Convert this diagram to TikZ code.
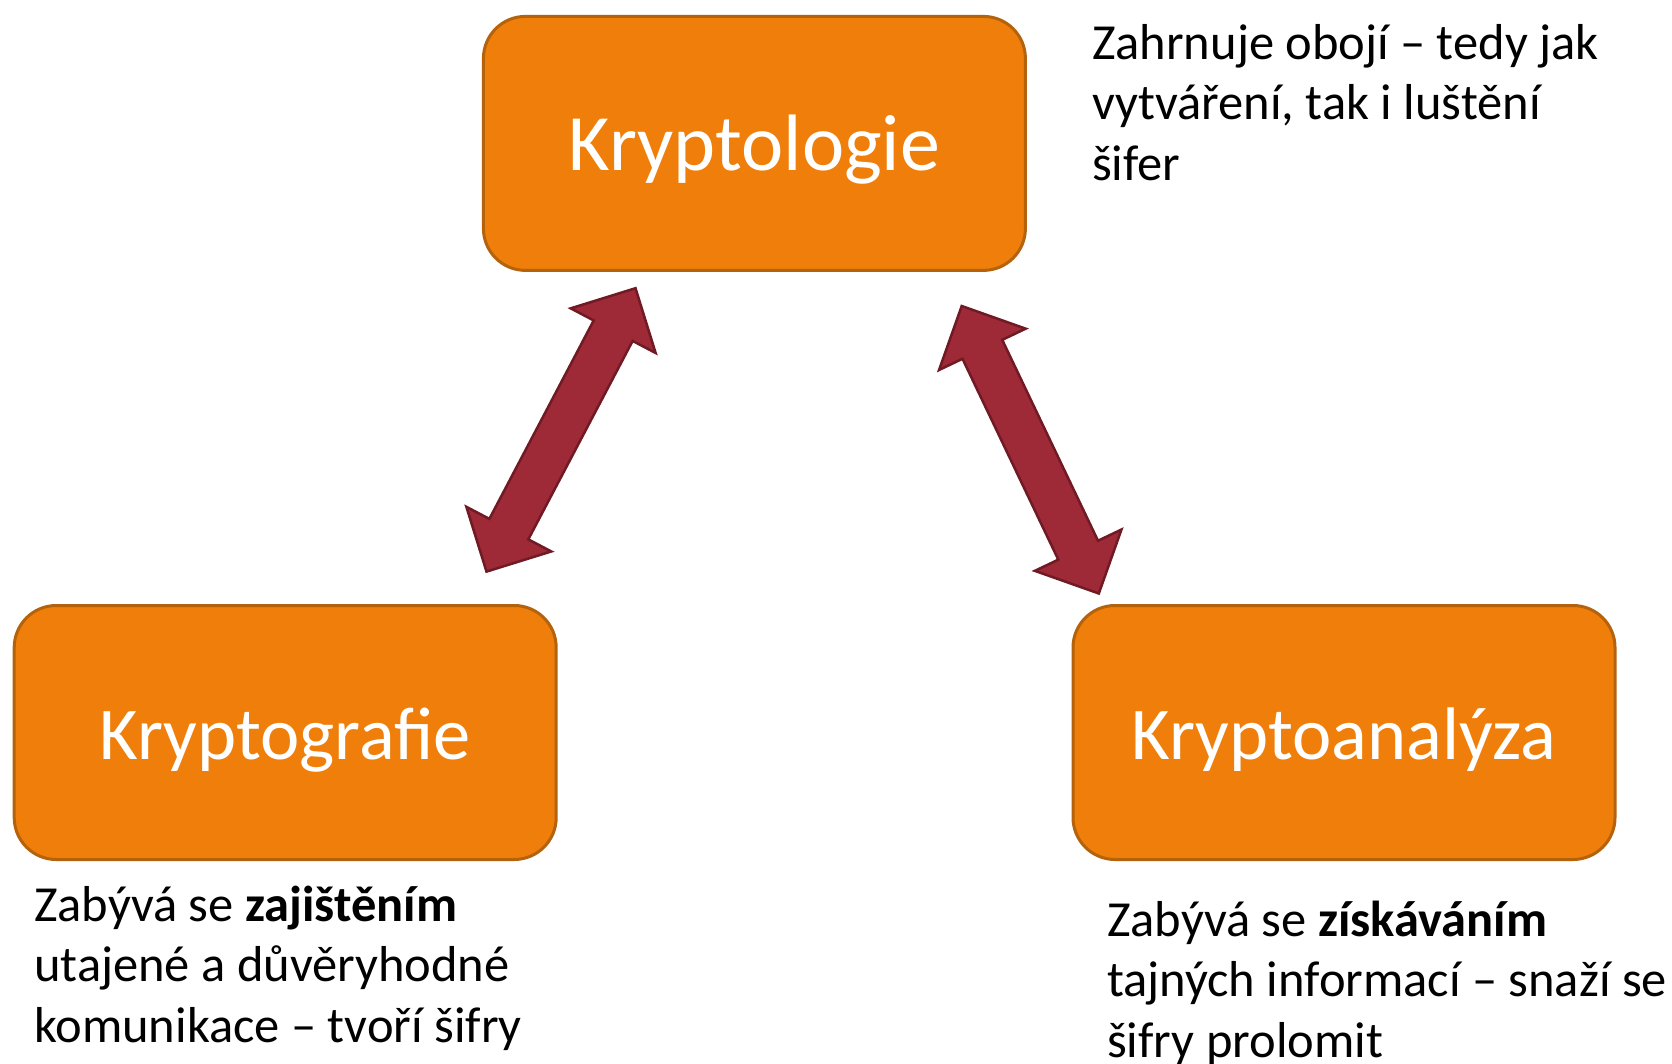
\documentclass[tikz,border=0pt]{standalone}
\usepackage{fontspec}
\setmainfont{Carlito}
\usetikzlibrary{calc}
\definecolor{boxfill}{RGB}{239,127,10}
\definecolor{boxline}{RGB}{180,98,12}
\definecolor{arrfill}{RGB}{158,41,55}
\definecolor{arrline}{RGB}{112,26,36}
\newcommand\fatarrow[2]{%
  \draw[fatarrowstyle] (#1)
    -- ($(#1)!48pt!(#2)!48pt!90:(#2)$)
    -- ($(#1)!48pt!(#2)!22pt!90:(#2)$)
    -- ($(#2)!48pt!(#1)!22pt!-90:(#1)$)
    -- ($(#2)!48pt!(#1)!48pt!-90:(#1)$)
    -- (#2)
    -- ($(#2)!48pt!(#1)!48pt!90:(#1)$)
    -- ($(#2)!48pt!(#1)!22pt!90:(#1)$)
    -- ($(#1)!48pt!(#2)!22pt!-90:(#2)$)
    -- ($(#1)!48pt!(#2)!48pt!-90:(#2)$)
    -- cycle;}
\begin{document}
\begin{tikzpicture}[x=1pt,y=1pt,
  box/.style={draw=boxline, fill=boxfill, line width=3pt, rounded corners=42pt,
    minimum width=542pt, minimum height=254pt, text=white,
    font=\fontsize{74.5}{90}\selectfont, text height=60pt, text depth=6pt},
  desc/.style={anchor=base west, align=left, inner sep=0pt,
    font=\fontsize{50.5}{60.5}\selectfont},
  fatarrowstyle/.style={draw=arrline, fill=arrfill, line width=2.5pt, line join=miter}]
\useasboundingbox (0,0) rectangle (1672,-1063);
\node[box, font=\fontsize{80}{96}\selectfont] (top) at (754.4,-143.4) {Kryptologie};
\node[box] (left) at (285.2,-732.5) {Kryptografie};
\node[box] (right) at (1344,-732.5) {Kryptoanalýza};
\node[desc] (dtop) at (1092,-180) {Zahrnuje obojí – tedy jak\\vytváření, tak i luštění\\šifer};
\node[desc] (dleft) at (34,-1042) {Zabývá se \textbf{zajištěním}\\utajené a důvěryhodné\\komunikace – tvoří šifry};
\node[desc] (dright) at (1107,-1057) {Zabývá se \textbf{získáváním}\\tajných informací – snaží se\\šifry prolomit};
\coordinate (la) at (486.5,-571.6);
\coordinate (lb) at (635.5,-288.2);
\coordinate (ra) at (961.7,-306);
\coordinate (rb) at (1098.8,-593.5);
\fatarrow{la}{lb}
\fatarrow{ra}{rb}
\end{tikzpicture}
\end{document}
